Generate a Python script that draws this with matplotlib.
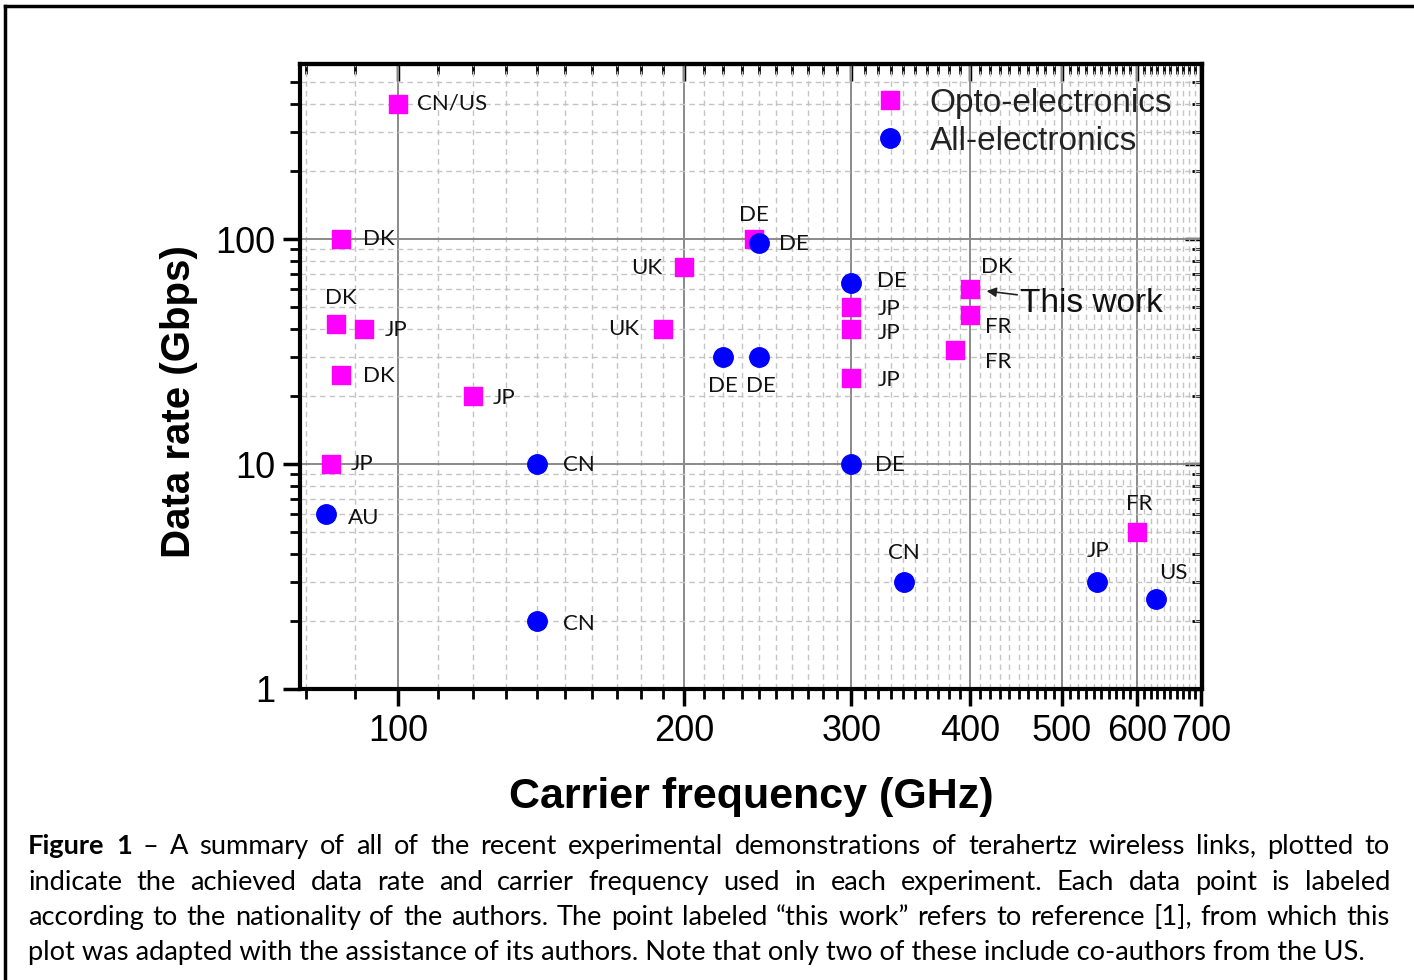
import numpy as np
import matplotlib
matplotlib.use("Agg")
import matplotlib.pyplot as plt
from matplotlib.ticker import FixedLocator, NullFormatter, FixedFormatter
from matplotlib.lines import Line2D

# opto-electronic links (magenta squares)
opto_freq = [100, 87, 86, 92, 87, 120, 85, 200, 190, 237, 300, 300, 300, 400, 400, 386, 600]
opto_rate = [400, 100, 42, 40, 25, 20, 10, 75, 40, 100, 50, 40, 24, 60, 46, 32, 5]
opto_lab = ["CN/US", "DK", "DK", "JP", "DK", "JP", "JP", "UK", "UK", "DE",
            "JP", "JP", "JP", "DK", "FR", "FR", "FR"]

# all-electronic links (blue circles)
elec_freq = [84, 140, 140, 220, 240, 240, 300, 300, 341, 544, 628]
elec_rate = [6, 10, 2, 30, 30, 96, 64, 10, 3, 3, 2.5]
elec_lab = ["AU", "CN", "CN", "DE", "DE", "DE", "DE", "DE", "CN", "JP", "US"]

x_major = [100, 200, 300, 400, 500, 600, 700]
y_major = [1, 10, 100]

caption = [
    "Figure 1 – A summary of all of the recent experimental demonstrations of terahertz wireless links, plotted to",
    "indicate the achieved data rate and carrier frequency used in each experiment. Each data point is labeled",
    "according to the nationality of the authors. The point labeled “this work” refers to reference [1], from which this",
    "plot was adapted with the assistance of its authors. Note that only two of these include co-authors from the US.",
]

# label placement (pixels offset, horizontal alignment)
opto_pos = [(19, 0, "left"), (22, 0, "left"), (5, 26, "center"), (21, -1, "left"),
            (22, -1, "left"), (19, -2, "left"), (19, 0, "left"), (-22, -1, "right"),
            (-24, 0, "right"), (0, 24, "center"), (26, -2, "left"), (26, -4, "left"),
            (26, -2, "left"), (11, 22, "left"), (15, -12, "left"), (30, -12, "left"),
            (2, 28, "center")]
elec_pos = [(22, -4, "left"), (26, -1, "left"), (26, -3, "left"), (-1, -29, "center"),
            (2, -29, "center"), (20, -1, "left"), (26, 2, "left"), (24, -1, "left"),
            (0, 29, "center"), (1, 31, "center"), (17, 26, "center")]

W, H = 1414, 980
fig = plt.figure(figsize=(W / 100, H / 100), dpi=100)
ax = fig.add_axes([300 / W, 1 - 689 / H, 902 / W, 625 / H])

ax.set_xscale("log")
ax.set_yscale("log")
ax.set_xlim(78.8, 702)
ax.set_ylim(1, 600)

x_minor = [v for v in range(80, 700, 10) if v not in x_major]
y_minor = [m * 10 ** d for d in range(3) for m in range(2, 10) if m * 10 ** d < 600]

ax.xaxis.set_major_locator(FixedLocator(x_major))
ax.xaxis.set_major_formatter(FixedFormatter([str(v) for v in x_major]))
ax.xaxis.set_minor_locator(FixedLocator(x_minor))
ax.xaxis.set_minor_formatter(NullFormatter())
ax.yaxis.set_major_locator(FixedLocator(y_major))
ax.yaxis.set_major_formatter(FixedFormatter([str(v) for v in y_major]))
ax.yaxis.set_minor_locator(FixedLocator(y_minor))
ax.yaxis.set_minor_formatter(NullFormatter())

ax.grid(which="major", color="#8a8a8a", lw=1.4, ls="-")
ax.grid(which="minor", color="#c4c4c4", lw=1.0, ls=(0, (4, 3)))
ax.set_axisbelow(True)

for s in ax.spines.values():
    s.set_linewidth(3)
ax.tick_params(which="major", direction="out", length=12, width=2.5, labelsize=26, pad=6)
ax.tick_params(which="minor", direction="out", length=7, width=2)
for lab in ax.get_xticklabels() + ax.get_yticklabels():
    lab.set_family("Liberation Sans")

# mirrored ticks pointing inward on top and right
top = ax.secondary_xaxis("top")
top.xaxis.set_major_locator(FixedLocator(x_major))
top.xaxis.set_minor_locator(FixedLocator(x_minor))
top.xaxis.set_major_formatter(NullFormatter())
top.xaxis.set_minor_formatter(NullFormatter())
top.tick_params(which="major", direction="in", length=12, width=2.5)
top.tick_params(which="minor", direction="in", length=7, width=2)
top.spines["top"].set_linewidth(3)
right = ax.secondary_yaxis("right")
right.yaxis.set_major_locator(FixedLocator(y_major))
right.yaxis.set_minor_locator(FixedLocator(y_minor))
right.yaxis.set_major_formatter(NullFormatter())
right.yaxis.set_minor_formatter(NullFormatter())
right.tick_params(which="major", direction="in", length=12, width=2.5)
right.tick_params(which="minor", direction="in", length=7, width=2)
right.spines["right"].set_linewidth(3)

ax.scatter(opto_freq, opto_rate, marker="s", s=13 ** 2, color="#ff00ff", zorder=3)
ax.scatter(elec_freq, elec_rate, marker="o", s=14 ** 2, color="#0000ff", zorder=3)

for f, r, t, (dx, dy, ha) in zip(opto_freq + elec_freq, opto_rate + elec_rate,
                                 opto_lab + elec_lab, opto_pos + elec_pos):
    ax.annotate(t, (f, r), xytext=(dx, dy), textcoords="offset pixels",
                ha=ha, va="center", fontsize=16, family="Lato", color="#111111")

ax.annotate("This work", (opto_freq[13], opto_rate[13]), xytext=(50, -15),
            textcoords="offset pixels", ha="left", va="center", fontsize=24,
            family="Liberation Sans", color="#111111",
            arrowprops=dict(arrowstyle="-|>", color="#222222", lw=1.2,
                            shrinkA=0, shrinkB=12, mutation_scale=14))

handles = [Line2D([], [], ls="none", marker="s", ms=13, color="#ff00ff"),
           Line2D([], [], ls="none", marker="o", ms=14, color="#0000ff")]
leg = ax.legend(handles, ["Opto-electronics", "All-electronics"], loc="upper left",
                bbox_to_anchor=((873 - 300) / 902, (689 - 88) / 625), frameon=False,
                borderpad=0, borderaxespad=0, handlelength=1.0, handletextpad=0.7,
                labelspacing=0.2, prop={"family": "Liberation Sans", "size": 24})
for t in leg.get_texts():
    t.set_color("#222222")

ax.set_xlabel("Carrier frequency (GHz)", fontsize=31, fontweight="bold",
              family="Liberation Sans", labelpad=20)
ax.set_ylabel("Data rate (Gbps)", fontsize=29, fontweight="bold",
              family="Liberation Sans")
ax.yaxis.set_label_coords((198 - 300) / 902, (689 - 402) / 625)

# page border (left and top edges only)
fig.add_artist(Line2D([4.5 / W, 4.5 / W], [0, 1 - 6 / H], color="black", lw=2.5))
fig.add_artist(Line2D([4.5 / W, 1], [1 - 6 / H, 1 - 6 / H], color="black", lw=2.5))

# caption, justified like the source page
cap_fs = 19.6
x0, x1 = 28, 1390
ys = [846, 882, 917, 952]
renderer = fig.canvas.get_renderer()
for i, (line, y) in enumerate(zip(caption, ys)):
    if i == len(caption) - 1:
        fig.text(x0 / W, 1 - y / H, line, fontsize=cap_fs, family="Lato", va="center")
        continue
    words = line.split(" ")
    objs = []
    for j, w in enumerate(words):
        bold = i == 0 and j < 2
        objs.append(fig.text(0, 1 - y / H, w, fontsize=cap_fs, family="Lato", va="center",
                             fontweight="bold" if bold else "normal"))
    widths = [o.get_window_extent(renderer).width for o in objs]
    gap = (x1 - x0 - sum(widths)) / (len(objs) - 1)
    x = x0
    for o, w in zip(objs, widths):
        o.set_x(x / W)
        x += w + gap

fig.savefig("out.png", dpi=100)
